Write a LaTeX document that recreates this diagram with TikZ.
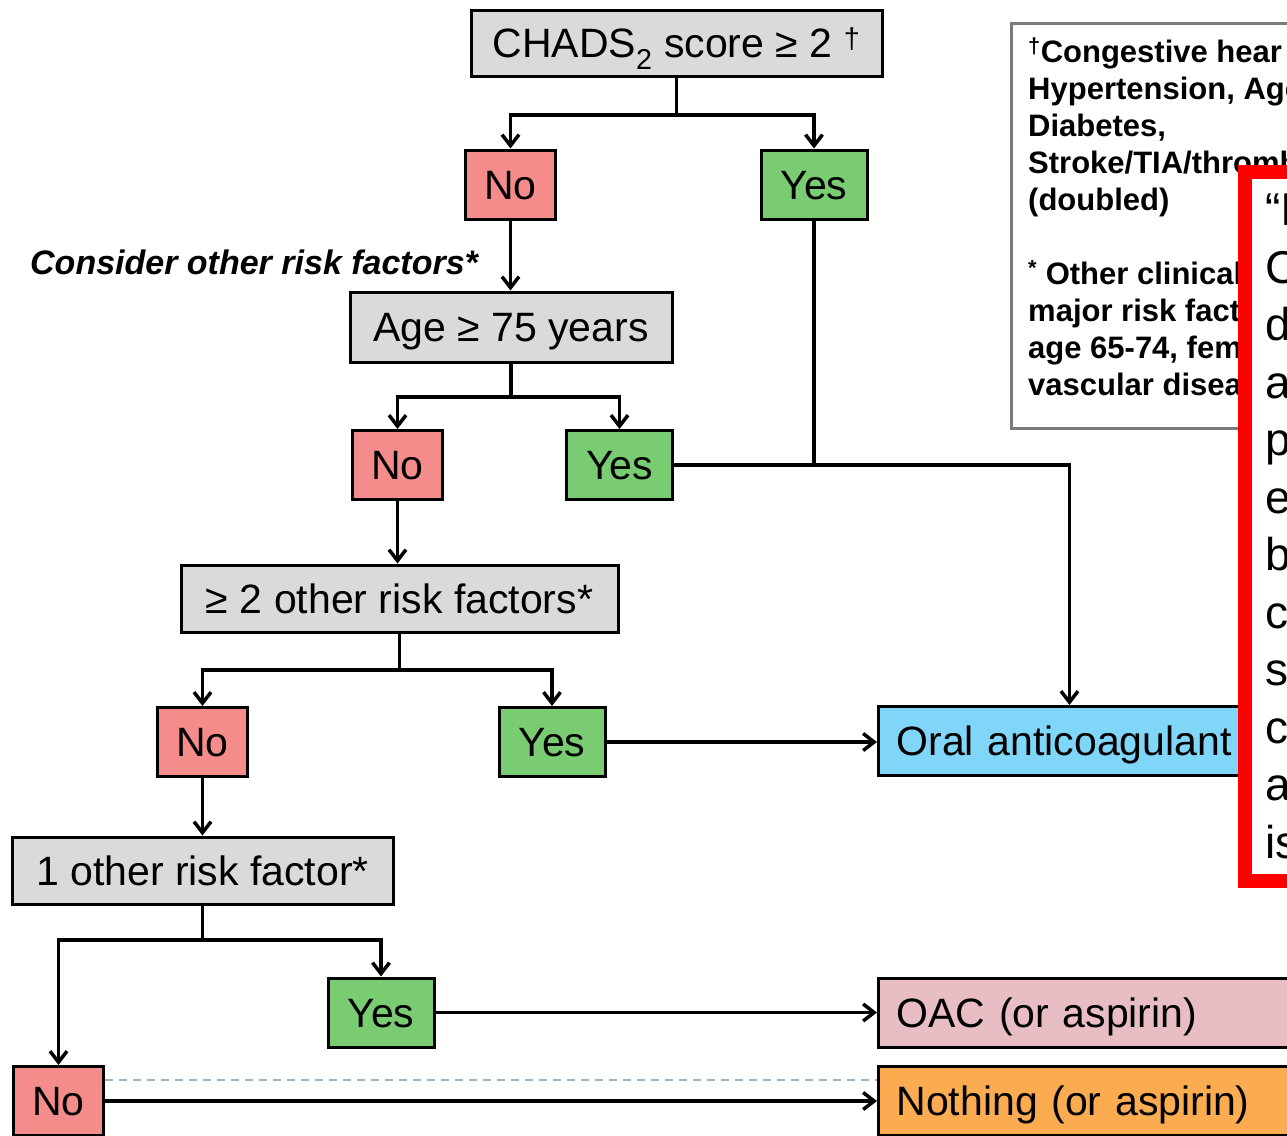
\documentclass[tikz,border=0pt]{standalone}
\usepackage{fontspec}
\setmainfont{Liberation Sans}
\usetikzlibrary{arrows.meta}
\definecolor{askgray}{HTML}{DADADA}
\definecolor{nored}{HTML}{F58C8C}
\definecolor{yesgreen}{HTML}{7ACC72}
\definecolor{oacyan}{HTML}{80D6F8}
\definecolor{oacpink}{HTML}{E8BEC4}
\definecolor{noneorange}{HTML}{FCAC50}
\definecolor{dashblue}{HTML}{9AB4CC}
\definecolor{keygray}{HTML}{7A7A7A}
\tikzset{
    >={Straight Barb[length=11pt,width=17pt]}, % open arrow heads
    every node/.style={inner sep=0pt},
    box/.style={draw, line width=3pt, text height=38pt, text depth=8.6pt, font=\fontsize{41}{49}\selectfont},
    ask/.style={box, fill=askgray}, % grey question boxes
    nobox/.style={box, fill=nored, minimum width=90pt, minimum height=69pt},
    yesbox/.style={box, fill=yesgreen, minimum width=106pt, minimum height=69pt},
    result/.style={box, anchor=west, align=left, inner xsep=18pt, minimum height=69pt},
    link/.style={line width=3.5pt},
}
\begin{document}
\begin{tikzpicture}[x=1pt, y=-1pt]
    \useasboundingbox (0,0) rectangle (1287,1135);
    \clip (0,0) rectangle (1287,1135);
    % questions and answers
    \node[ask, minimum width=411pt, minimum height=66pt] (chads) at (676.5,43) {CHADS\textsubscript{2} score ≥ 2 \textsuperscript{†}};
    \node[nobox] (no1) at (510.5,184.5) {No};
    \node[yesbox] (yes1) at (814,184.5) {Yes};
    \node[anchor=base west, font=\bfseries\itshape\fontsize{34}{40}\selectfont] (hint) at (30,274) {Consider other risk factors*};
    \node[ask, minimum width=322pt, minimum height=70pt] (age) at (511,327) {Age ≥ 75 years};
    \node[nobox] (no2) at (397.5,465) {No};
    \node[yesbox] (yes2) at (619.5,465) {Yes};
    \node[ask, minimum width=437pt, minimum height=67pt] (two) at (399.5,598.5) {≥ 2 other risk factors*};
    \node[nobox] (no3) at (202.5,742) {No};
    \node[yesbox] (yes3) at (552,742) {Yes};
    \node[ask, minimum width=381pt, minimum height=67pt] (one) at (202.5,870.5) {1 other risk factor*};
    \node[yesbox] (yes4) at (381,1012.5) {Yes};
    \node[nobox] (no4) at (58.5,1101) {No};
    % outcomes
    \node[result, fill=oacyan, text width=346pt] (oa) at (877,741) {Oral anticoagulant};
    \node[result, fill=oacpink, text width=420pt] (oac) at (877,1012.5) {OAC (or aspirin)};
    \node[result, fill=noneorange, text width=420pt] (none) at (877,1101) {Nothing (or aspirin)};

    % connectors
    \draw[link] (chads.south) -- (676.5,115) coordinate (split1);
    \draw[link, ->] (split1) -| (no1.north);
    \draw[link, ->] (split1) -| (yes1.north);
    \draw[link, ->] (no1.south) -- (no1.south |- age.north);
    \draw[link] (age.south) -- (511,397) coordinate (split2);
    \draw[link, ->] (split2) -| (no2.north);
    \draw[link, ->] (split2) -| (yes2.north);
    \draw[link] (yes1.south) -- (yes1.south |- yes2.east);
    \draw[link, ->] (yes2.east) -| (oa.north);
    \draw[link, ->] (no2.south) -- (no2.south |- two.north);
    \draw[link] (two.south) -- (399.5,670) coordinate (split3);
    \draw[link, ->] (split3) -| (no3.north);
    \draw[link, ->] (split3) -| (yes3.north);
    \draw[link, ->] (yes3.east) -- (yes3.east -| oa.west);
    \draw[link, ->] (no3.south) -- (no3.south |- one.north);
    \draw[link] (one.south) -- (202.5,940) coordinate (split4);
    \draw[link, ->] (split4) -| (no4.north);
    \draw[link, ->] (split4) -| (yes4.north);
    \draw[link, ->] (yes4.east) -- (yes4.east -| oac.west);
    \draw[link, ->] (no4.east) -- (no4.east -| none.west);
    \draw[dashblue, line width=1.5pt, dash pattern=on 8pt off 6pt] ([yshift=-15pt]no4.north east) -- ([yshift=-15pt]no4.north east -| none.west);

    % footnote box
    \node[draw=keygray, line width=3pt, anchor=north west, minimum width=300pt, minimum height=405pt] (keybox) at (1010,22) {};
    \node[anchor=north west, align=left, font=\bfseries\fontsize{31}{37}\selectfont] (keytext) at (1028,38) {\textsuperscript{†}Congestive hear\\Hypertension, Age\\Diabetes,\\Stroke/TIA/thromb\\(doubled)\\[37pt]\textsuperscript{*} Other clinical\\major risk facto\\age 65-74, fem\\vascular disea};

    % red note
    \node[draw=red, line width=14pt, fill=white, anchor=north west, minimum width=120pt, minimum height=709pt] (note) at (1238,165) {};
    \foreach \word [count=\i] in {“I,C,d,a,p,e,b,c,s,c,a,is}
        \node[anchor=base west, font=\fontsize{46}{57}\selectfont] (line\i) at (1265,{225.5+57.5*(\i-1)}) {\word};
\end{tikzpicture}
\end{document}
